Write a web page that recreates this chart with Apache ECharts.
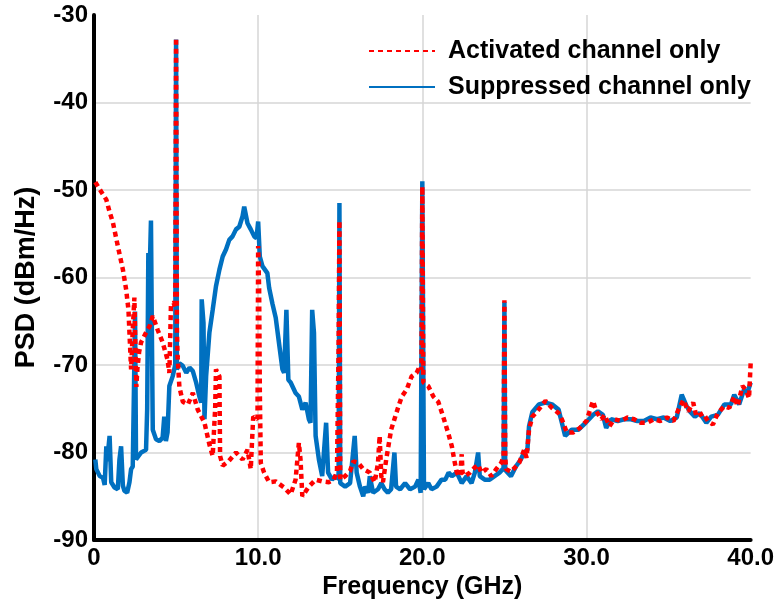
<!DOCTYPE html>
<html>
<head>
<meta charset="utf-8">
<script src="https://cdn.jsdelivr.net/npm/echarts@6/dist/echarts.min.js"></script>
<style>
  html, body { margin: 0; padding: 0; background: #fff; }
  #chart { width: 777px; height: 608px; }
</style>
</head>
<body>
<div id="chart"></div>
<script>
// PSD 数据，频率单位 GHz，功率 dBm/Hz
const actFreq = [0.08, 0.44, 0.75, 0.95, 1.15, 1.45, 1.76, 1.96, 2.10, 2.16, 2.26, 2.36, 2.46, 2.52, 2.58, 2.64, 2.75, 2.87, 3.17, 3.40, 3.58, 3.88, 4.18, 4.48, 4.59, 4.69, 4.85, 4.95, 5.00, 5.05, 5.09, 5.20, 5.41, 5.72, 6.02, 6.32, 6.73, 7.03, 7.23, 7.38, 7.43, 7.64, 7.68, 7.84, 8.20, 8.65, 9.05, 9.35, 9.55, 9.62, 9.70, 9.96, 10.00, 10.06, 10.10, 10.16, 10.36, 10.67, 11.07, 11.58, 11.98, 12.28, 12.48, 12.58, 12.69, 13.09, 13.50, 13.90, 14.30, 14.60, 14.80, 14.90, 14.95, 15.00, 15.30, 15.60, 15.80, 16.10, 16.40, 16.80, 17.10, 17.30, 17.40, 17.50, 17.60, 17.80, 18.10, 18.35, 18.55, 18.75, 19.05, 19.35, 19.65, 19.86, 19.95, 20.00, 20.06, 20.36, 20.67, 20.97, 21.27, 21.58, 21.80, 21.94, 22.10, 22.30, 22.40, 22.45, 22.60, 22.90, 23.20, 23.40, 23.60, 23.90, 24.20, 24.50, 24.80, 24.95, 25.00, 25.05, 25.10, 25.40, 25.70, 25.90, 26.20, 26.35, 26.50, 26.70, 27.00, 27.50, 27.90, 28.30, 28.50, 28.80, 29.20, 29.60, 30.00, 30.40, 30.60, 30.90, 31.10, 31.40, 31.70, 32.10, 32.50, 32.90, 33.30, 33.70, 34.10, 34.50, 34.90, 35.30, 35.60, 35.90, 36.20, 36.50, 36.70, 37.10, 37.40, 37.70, 38.00, 38.40, 38.70, 39.00, 39.20, 39.50, 39.70, 39.90, 40.00];
const actPsd = [-49.1, -50.2, -51.1, -52.5, -53.7, -56.4, -59.1, -61.4, -63.7, -66.3, -70.5, -66.0, -62.3, -68.0, -72.5, -70.5, -68.5, -67.4, -66.3, -65.5, -64.4, -66.0, -67.4, -69.4, -70.9, -63.0, -62.9, -63.5, -32.6, -66.0, -69.0, -72.5, -74.2, -74.5, -73.2, -75.1, -76.6, -79.1, -80.4, -75.0, -70.5, -71.3, -80.4, -81.5, -81.0, -80.0, -80.8, -79.7, -81.9, -79.0, -75.9, -76.2, -56.4, -61.4, -72.8, -81.2, -82.3, -83.4, -83.3, -84.0, -84.8, -83.1, -78.9, -80.8, -85.0, -83.9, -83.1, -83.3, -83.4, -83.1, -82.3, -68.0, -53.5, -83.1, -82.7, -82.1, -81.0, -81.2, -81.9, -82.3, -83.4, -81.2, -78.1, -82.7, -83.4, -80.8, -77.4, -75.9, -74.7, -73.6, -72.8, -71.3, -70.9, -70.1, -70.5, -49.6, -72.0, -72.4, -73.6, -74.2, -75.9, -77.8, -79.3, -80.8, -82.3, -82.7, -80.2, -82.3, -82.7, -82.3, -81.7, -81.4, -82.3, -81.9, -82.7, -81.9, -81.2, -80.5, -62.6, -80.5, -81.9, -82.2, -81.6, -81.2, -79.7, -80.6, -77.4, -75.9, -75.3, -74.1, -74.9, -75.5, -76.2, -77.7, -77.7, -77.2, -76.4, -74.1, -75.3, -76.2, -75.7, -77.0, -76.2, -76.4, -76.0, -76.2, -76.6, -76.6, -76.2, -76.4, -76.0, -76.4, -75.1, -74.0, -75.3, -74.3, -75.9, -75.5, -76.4, -76.8, -75.5, -74.7, -74.9, -73.6, -74.7, -72.4, -72.8, -73.8, -69.8];

const supFreq = [0.08, 0.14, 0.35, 0.55, 0.65, 0.75, 0.80, 0.85, 0.95, 1.05, 1.25, 1.45, 1.55, 1.65, 1.76, 1.86, 2.02, 2.16, 2.26, 2.36, 2.44, 2.50, 2.56, 2.87, 3.17, 3.24, 3.31, 3.37, 3.47, 3.52, 3.58, 3.78, 3.98, 4.18, 4.28, 4.38, 4.48, 4.59, 4.79, 4.95, 5.00, 5.05, 5.20, 5.41, 5.62, 5.82, 6.02, 6.22, 6.42, 6.53, 6.56, 6.67, 6.73, 6.83, 7.03, 7.23, 7.43, 7.64, 7.84, 8.04, 8.24, 8.44, 8.65, 8.85, 9.05, 9.15, 9.35, 9.55, 9.76, 9.90, 10.00, 10.10, 10.26, 10.56, 10.67, 10.87, 11.07, 11.27, 11.48, 11.58, 11.72, 11.84, 11.98, 12.28, 12.48, 12.69, 12.89, 13.09, 13.19, 13.29, 13.40, 13.50, 13.70, 13.90, 14.14, 14.26, 14.50, 14.70, 14.90, 14.95, 15.00, 15.30, 15.60, 15.88, 16.00, 16.20, 16.40, 16.50, 16.70, 16.80, 17.00, 17.30, 17.50, 17.70, 17.90, 18.10, 18.30, 18.40, 18.65, 18.95, 19.25, 19.56, 19.76, 19.90, 20.00, 20.10, 20.36, 20.56, 20.87, 21.17, 21.40, 21.60, 21.80, 22.10, 22.40, 22.70, 23.00, 23.20, 23.40, 23.50, 23.80, 24.10, 24.40, 24.70, 24.95, 25.00, 25.05, 25.20, 25.40, 25.70, 26.00, 26.20, 26.40, 26.50, 26.70, 27.10, 27.50, 27.90, 28.30, 28.50, 28.70, 29.10, 29.50, 29.95, 30.40, 30.70, 31.00, 31.20, 31.50, 31.90, 32.30, 32.70, 33.10, 33.50, 33.90, 34.30, 34.70, 35.10, 35.50, 35.80, 36.10, 36.30, 36.60, 36.90, 37.30, 37.60, 38.00, 38.40, 38.80, 39.00, 39.30, 39.60, 39.80, 40.00];
const supPsd = [-80.8, -81.9, -82.7, -82.9, -83.7, -79.3, -81.0, -80.8, -78.1, -83.4, -84.0, -84.2, -80.8, -79.3, -83.8, -84.4, -84.6, -83.4, -81.9, -81.6, -72.0, -63.9, -80.8, -80.0, -79.7, -75.0, -57.2, -61.0, -53.5, -65.0, -77.4, -78.5, -78.7, -78.3, -75.9, -78.7, -77.7, -72.4, -71.3, -70.0, -32.8, -70.5, -69.8, -70.1, -70.9, -70.3, -70.7, -72.0, -73.6, -74.3, -62.5, -65.2, -76.2, -71.3, -66.3, -63.7, -61.0, -59.1, -57.6, -56.8, -55.7, -55.3, -54.5, -54.2, -53.0, -51.9, -53.8, -54.5, -55.3, -55.5, -53.6, -57.6, -58.7, -59.5, -61.2, -63.0, -64.6, -67.5, -70.5, -70.9, -63.7, -71.7, -72.0, -73.2, -73.6, -75.1, -74.3, -76.2, -76.6, -63.7, -66.3, -78.1, -80.8, -82.7, -76.6, -82.3, -83.1, -82.7, -83.0, -51.5, -83.5, -83.9, -83.5, -78.1, -82.3, -83.9, -85.0, -83.9, -84.6, -82.7, -84.6, -84.2, -83.5, -84.2, -84.6, -84.2, -80.0, -83.9, -84.2, -83.5, -84.2, -83.9, -83.1, -84.6, -49.0, -84.2, -83.5, -84.2, -83.9, -83.1, -83.1, -82.3, -82.7, -82.3, -83.5, -82.7, -83.5, -82.3, -80.0, -82.7, -83.1, -83.1, -82.7, -82.3, -81.8, -62.8, -82.0, -82.3, -82.7, -81.6, -80.8, -80.0, -79.7, -77.0, -75.4, -74.5, -74.3, -74.5, -75.1, -76.6, -78.1, -77.4, -77.4, -76.6, -75.7, -75.3, -75.7, -77.2, -76.2, -76.4, -76.2, -76.2, -76.4, -76.4, -76.0, -76.2, -76.0, -76.4, -76.0, -73.4, -74.7, -75.3, -75.9, -75.5, -76.6, -75.9, -75.7, -74.5, -74.5, -73.4, -74.5, -72.8, -73.2, -72.0];

const xTicks = [0, 10, 20, 30, 40];
const yTicks = [-90, -80, -70, -60, -50, -40, -30];

const FONT = 'Liberation Sans, Arial, sans-serif';

function pairs(xs, ys) {
    return xs.map((x, i) => [x, ys[i]]);
}

const chart = echarts.init(document.getElementById('chart'));

chart.setOption({
    animation: false,
    backgroundColor: '#fff',
    grid: {
        left: 94,
        right: 23,
        top: 15,
        bottom: 68
    },
    legend: {
        orient: 'vertical',
        left: 363,
        top: 32,
        itemWidth: 66,
        itemHeight: 14,
        itemGap: 8,
        itemStyle: { opacity: 0 },
        textStyle: {
            fontFamily: FONT,
            fontWeight: 'bold',
            fontSize: 25,
            color: '#000',
            lineHeight: 28,
            padding: [0, 0, 0, 8]
        },
        data: ['Activated channel only', 'Suppressed channel only']
    },
    xAxis: {
        type: 'value',
        min: xTicks[0],
        max: xTicks[xTicks.length - 1],
        interval: 10,
        name: 'Frequency (GHz)',
        nameLocation: 'middle',
        nameGap: 32,
        nameTextStyle: {
            fontFamily: FONT,
            fontWeight: 'bold',
            fontSize: 25,
            color: '#000'
        },
        axisLine: { lineStyle: { color: '#000', width: 4 } },
        axisTick: { show: false },
        axisLabel: {
            margin: 6,
            fontFamily: FONT,
            fontWeight: 'bold',
            fontSize: 24,
            color: '#000',
            formatter: v => (v === 0 ? '0' : v.toFixed(1))
        },
        splitLine: {
            show: true,
            showMinLine: false,
            showMaxLine: false,
            lineStyle: { color: '#d6d6d6', width: 1.5 }
        }
    },
    yAxis: {
        type: 'value',
        min: yTicks[0],
        max: yTicks[yTicks.length - 1],
        interval: 10,
        name: 'PSD (dBm/Hz)',
        nameLocation: 'middle',
        nameGap: 54,
        nameTextStyle: {
            fontFamily: FONT,
            fontWeight: 'bold',
            fontSize: 27,
            color: '#000'
        },
        axisLine: { show: true, lineStyle: { color: '#000', width: 4 } },
        axisTick: { show: false },
        axisLabel: {
            margin: 6,
            fontFamily: FONT,
            fontWeight: 'bold',
            fontSize: 24,
            color: '#000'
        },
        splitLine: {
            show: true,
            showMinLine: false,
            showMaxLine: false,
            lineStyle: { color: '#d6d6d6', width: 1.5 }
        }
    },
    series: [
        {
            name: 'Suppressed channel only',
            type: 'line',
            symbol: 'none',
            z: 2,
            lineStyle: { color: '#0070c0', width: 4.5 },
            itemStyle: { color: '#0070c0' },
            data: pairs(supFreq, supPsd)
        },
        {
            name: 'Activated channel only',
            type: 'line',
            symbol: 'none',
            z: 3,
            lineStyle: { color: '#ff0000', width: 4.5, type: [5, 4] },
            itemStyle: { color: '#ff0000' },
            data: pairs(actFreq, actPsd)
        }
    ]
});
</script>
</body>
</html>
